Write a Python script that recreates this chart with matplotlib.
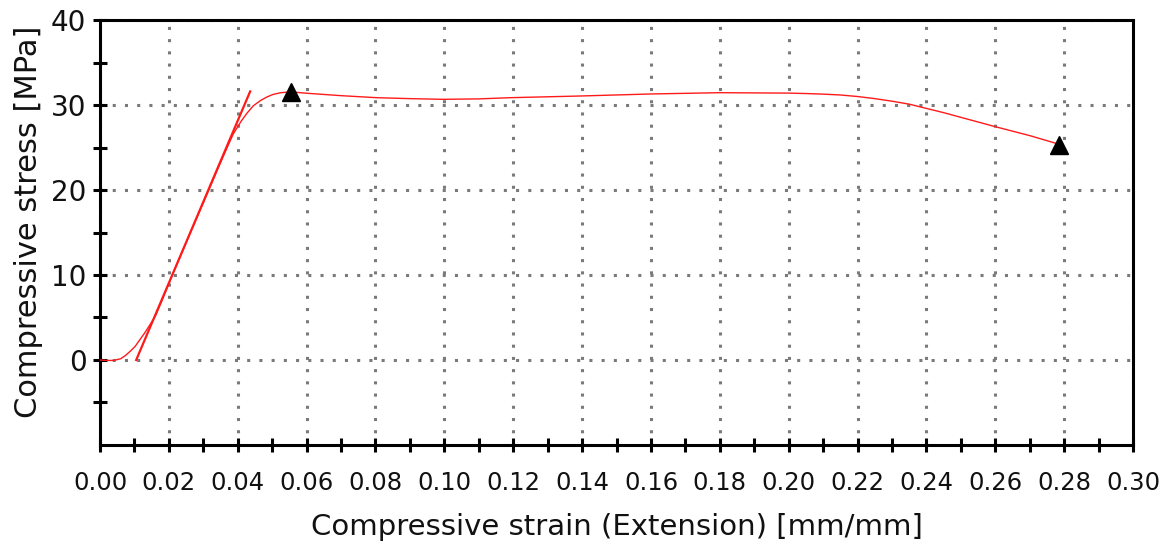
import matplotlib
matplotlib.use("Agg")
import matplotlib.pyplot as plt
from matplotlib.ticker import FixedLocator, FormatStrFormatter

# Measured compressive stress-strain curve
strain = [0.0, 0.002, 0.004, 0.006, 0.0073, 0.0087, 0.0102, 0.0115, 0.013,
          0.0145, 0.016, 0.018, 0.021, 0.025, 0.030, 0.034, 0.0368, 0.0387,
          0.041, 0.0426, 0.0445, 0.0465, 0.0485, 0.0503, 0.0525, 0.0555,
          0.0595, 0.070, 0.0804, 0.090, 0.0997, 0.110, 0.119, 0.1394, 0.160,
          0.180, 0.200, 0.205, 0.210, 0.215, 0.220, 0.225, 0.230, 0.235,
          0.240, 0.245, 0.250, 0.260, 0.270, 0.2784]
stress = [0.0, -0.05, -0.05, 0.15, 0.5, 1.0, 1.6, 2.35, 3.2,
          4.15, 5.1, 7.0, 10.0, 13.8, 18.5, 22.3, 24.9, 26.6,
          28.1, 29.0, 29.9, 30.5, 30.95, 31.25, 31.45, 31.55,
          31.4, 31.1, 30.86, 30.75, 30.67, 30.72, 30.86, 31.06, 31.3,
          31.45, 31.4, 31.35, 31.28, 31.18, 31.0, 30.75, 30.45, 30.1,
          29.6, 29.1, 28.55, 27.45, 26.4, 25.4]

# Modulus (tangent) line
modulus_strain = [0.0105, 0.0436]
modulus_stress = [0.0, 31.6]

# Marked points: maximum stress and break
marker_strain = [0.0555, 0.2784]
marker_stress = [31.5, 25.3]

x_major = [0.00, 0.02, 0.04, 0.06, 0.08, 0.10, 0.12, 0.14, 0.16, 0.18, 0.20,
           0.22, 0.24, 0.26, 0.28, 0.30]
x_minor = [0.01, 0.03, 0.05, 0.07, 0.09, 0.11, 0.13, 0.15, 0.17, 0.19, 0.21,
           0.23, 0.25, 0.27, 0.29]
y_major = [0, 10, 20, 30, 40]
y_minor = [-5, 5, 15, 25, 35]

plt.rcParams['font.family'] = ['DejaVu Sans']

fig = plt.figure(figsize=(11.74, 5.47), dpi=100)
ax = fig.add_axes([0.0852, 0.1865, 0.9651 - 0.0852, 0.9634 - 0.1865])

ax.plot(strain, stress, color='#ff1a1a', linewidth=1.0, zorder=3)
ax.plot(modulus_strain, modulus_stress, color='#ff1a1a', linewidth=1.6, zorder=3)
ax.plot(marker_strain, marker_stress, linestyle='none', marker='^',
        markersize=13, color='black', zorder=4)

ax.set_xlim(0, 0.30)
ax.set_ylim(-10, 40)

ax.xaxis.set_major_locator(FixedLocator(x_major))
ax.xaxis.set_minor_locator(FixedLocator(x_minor))
ax.yaxis.set_major_locator(FixedLocator(y_major))
ax.yaxis.set_minor_locator(FixedLocator(y_minor))
ax.xaxis.set_major_formatter(FormatStrFormatter('%.2f'))
ax.yaxis.set_major_formatter(FormatStrFormatter('%d'))

for s in ax.spines.values():
    s.set_linewidth(2.2)
    s.set_color('black')

ax.tick_params(axis='both', which='both', direction='inout', length=9.5,
               width=2.2, color='black', labelcolor='#111111')
ax.tick_params(axis='x', which='major', labelsize=17.5, pad=14)
ax.tick_params(axis='y', which='major', labelsize=20, pad=5)

ax.grid(True, which='major', color='#7a7a7a', linestyle=(0, (1, 3)),
        linewidth=2.2)

ax.set_xlabel('Compressive strain (Extension) [mm/mm]', fontsize=21,
              color='#111111', labelpad=13)
ax.set_ylabel('Compressive stress [MPa]', fontsize=22, color='#111111')
ax.yaxis.set_label_coords(-0.055, 0.525)

fig.savefig('out.png', dpi=100)
